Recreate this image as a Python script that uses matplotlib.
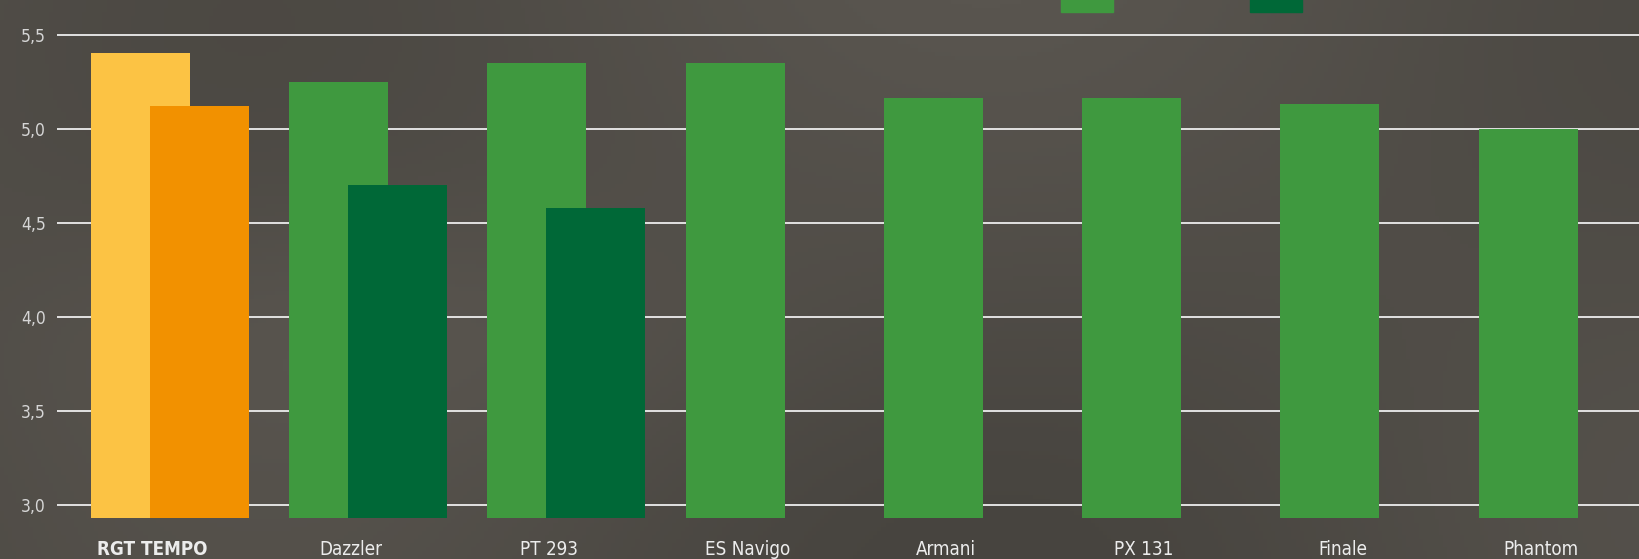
import matplotlib
matplotlib.use("Agg")
import matplotlib.pyplot as plt
import numpy as np
from matplotlib.patches import Rectangle
from matplotlib import font_manager as fm

categories = ["RGT TEMPO", "Dazzler", "PT 293", "ES Navigo", "Armani", "PX 131", "Finale", "Phantom"]
series1 = [5.40, 5.25, 5.35, 5.35, 5.165, 5.165, 5.13, 5.00]
series2 = [5.12, 4.70, 4.58, None, None, None, None, None]
yticks = [3.0, 3.5, 4.0, 4.5, 5.0, 5.5]
ytick_labels = ["3,0", "3,5", "4,0", "4,5", "5,0", "5,5"]

c1 = ["#FCC344"] + ["#3F993F"] * 7
c2 = ["#F29100"] + ["#006837"] * 7

# pick a condensed / narrow font if one is installed
cond_file = None
cond_bold = None
for f in fm.fontManager.ttflist:
    nm = f.name.lower()
    st = str(f.stretch).lower()
    is_cond = ("narrow" in nm or "condensed" in nm or "condensed" in st
               or (isinstance(f.stretch, int) and f.stretch < 500))
    if is_cond and f.style == "normal":
        wt = f.weight if isinstance(f.weight, int) else (700 if "bold" in str(f.weight) else 400)
        if wt == 400 and cond_file is None:
            cond_file = f.fname
        if wt == 700 and cond_bold is None:
            cond_bold = f.fname

if cond_file:
    fp_reg = fm.FontProperties(fname=cond_file)
    fp_bold = fm.FontProperties(fname=cond_bold) if cond_bold else fm.FontProperties(fname=cond_file, weight="bold")
    xs, ys = 13.5, 12.5
else:
    fp_reg = fm.FontProperties(family="Roboto")
    fp_bold = fm.FontProperties(family="Roboto", weight="bold")
    xs, ys = 12.5, 11.5

W, H = 1640, 559
fig = plt.figure(figsize=(W / 100, H / 100), dpi=100)
fig.patch.set_facecolor("#524f4b")

# subtle background texture
bg = fig.add_axes([0, 0, 1, 1], zorder=-10)
xx = np.linspace(0, 1, 400)
yy = np.linspace(0, 1, 140)
X, Y = np.meshgrid(xx, yy)
Z = 0.6 + 0.15 * np.sin(X * 7.0 + 0.5) * np.cos(Y * 3.0) + 0.15 * np.exp(-((X - 0.25) ** 2 + (Y - 0.4) ** 2) * 20) + 0.12 * Y
bg.imshow(Z, cmap=matplotlib.colors.LinearSegmentedColormap.from_list("bgc", ["#47443f", "#59554f"]),
          aspect="auto", extent=[0, 1, 0, 1], origin="lower")
bg.set_axis_off()

y_bottom = 2.932
y_top = 5.6835
ax_left = 57 / W
ax_bottom = (H - 517.7) / H
ax = fig.add_axes([ax_left, ax_bottom, 1 - ax_left, 1 - ax_bottom])
ax.set_facecolor("none")

x = np.arange(len(categories))
w = 0.499
off = 0.2975
for i in range(len(categories)):
    ax.bar(x[i], series1[i] - y_bottom, bottom=y_bottom, width=w, color=c1[i], zorder=3, linewidth=0)
    if series2[i] is not None:
        ax.bar(x[i] + off, series2[i] - y_bottom, bottom=y_bottom, width=w, color=c2[i], zorder=4, linewidth=0)

ax.set_xlim(-0.4196, 7.564)
ax.set_ylim(y_bottom, y_top)
ax.set_yticks(yticks)
ax.set_yticklabels(ytick_labels, color="#d6d6d6", fontproperties=fp_reg, fontsize=ys)
ax.yaxis.grid(True, color="#e2e2e2", linewidth=1.4, zorder=1)
ax.set_axisbelow(True)
ax.tick_params(axis="y", length=0, pad=8)
ax.set_xticks(x + 0.063)
labs = ax.set_xticklabels(categories, color="#ececec", fontproperties=fp_reg, fontsize=xs)
labs[0].set_fontproperties(fp_bold)
labs[0].set_fontsize(xs)
ax.tick_params(axis="x", length=0, pad=16)
for s in ax.spines.values():
    s.set_visible(False)

# legend swatches (clipped at top edge)
for (x0, x1, col) in [(1061, 1113, "#3F993F"), (1250, 1302, "#006837")]:
    fig.patches.append(Rectangle((x0 / W, (H - 12) / H), (x1 - x0) / W, 20 / H,
                                 transform=fig.transFigure, color=col, zorder=5))

fig.savefig("out.png", dpi=100, facecolor=fig.get_facecolor())
